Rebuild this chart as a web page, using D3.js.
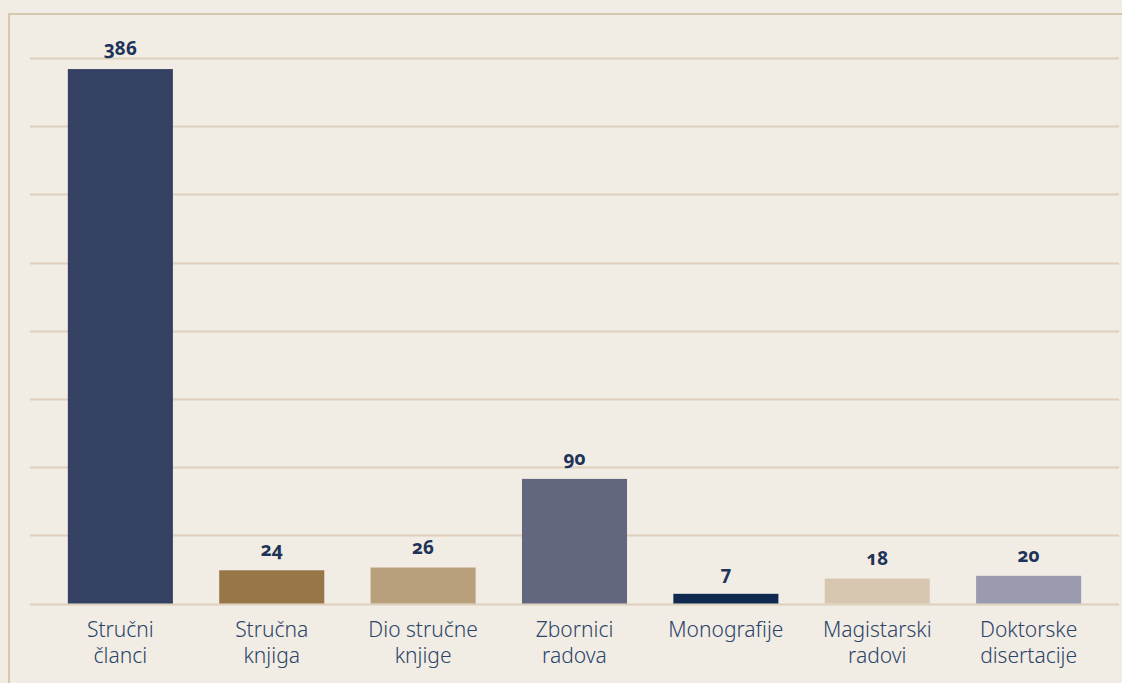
<!DOCTYPE html>
<html>
<head>
<meta charset="utf-8">
<script src="https://cdn.jsdelivr.net/npm/d3@7"></script>
<style>
  html, body { margin: 0; padding: 0; background: #f1ece4; }
  svg { display: block; }
  .value { font-family: "Noto Sans", Lato, sans-serif; font-weight: 700; font-variant-numeric: oldstyle-nums; fill: #1d3358; }
  .cat { font-family: "Noto Sans", Lato, sans-serif; font-weight: 300; fill: #2c4468; }
</style>
</head>
<body>
<svg id="chart" width="1122" height="683"></svg>
<script>
// Publications by type
const categories = [
  ["Stručni", "članci"],
  ["Stručna", "knjiga"],
  ["Dio stručne", "knjige"],
  ["Zbornici", "radova"],
  ["Monografije"],
  ["Magistarski", "radovi"],
  ["Doktorske", "disertacije"]
];
const values = [386, 24, 26, 90, 7, 18, 20];
const colors = ["#344162", "#977748", "#b8a07c", "#62667f", "#0f2a4e", "#d7c7b0", "#9a9bae"];
const yMax = 394;
const gridCount = 8;

const W = 1122, H = 683;
const svg = d3.select("#chart");

// outer frame
svg.append("rect")
  .attr("x", 9).attr("y", 14)
  .attr("width", W + 20).attr("height", H + 20)
  .attr("fill", "#f1ece4")
  .attr("stroke", "#d6c7af").attr("stroke-width", 2);

const x = d3.scaleBand()
  .domain(d3.range(categories.length))
  .range([30, 1119])
  .paddingInner(0.306)
  .paddingOuter(0.25);

const y = d3.scaleLinear().domain([0, yMax]).range([603.5, 58]);

// horizontal grid
const gridVals = d3.range(gridCount + 1).map(i => i * yMax / gridCount);
svg.append("g")
  .selectAll("line")
  .data(gridVals)
  .join("line")
  .attr("x1", 30).attr("x2", 1119)
  .attr("y1", d => Math.round(y(d)) + 0.5)
  .attr("y2", d => Math.round(y(d)) + 0.5)
  .attr("stroke", "#ddd0bc").attr("stroke-width", 2);

// bars
svg.append("g")
  .selectAll("rect")
  .data(values)
  .join("rect")
  .attr("x", (d, i) => x(i))
  .attr("width", x.bandwidth())
  .attr("y", d => y(d))
  .attr("height", d => y(0) - y(d))
  .attr("fill", (d, i) => colors[i]);

// value labels
svg.append("g")
  .selectAll("text")
  .data(values)
  .join("text")
  .attr("class", "value")
  .attr("x", (d, i) => x(i) + x.bandwidth() / 2)
  .attr("y", d => y(d) - 14)
  .attr("text-anchor", "middle")
  .attr("font-size", 19)
  .text(d => d);

// category labels
const cats = svg.append("g")
  .selectAll("text")
  .data(categories)
  .join("text")
  .attr("class", "cat")
  .attr("text-anchor", "middle")
  .attr("font-size", 21)
  .attr("x", (d, i) => x(i) + x.bandwidth() / 2)
  .attr("y", 637);
cats.selectAll("tspan")
  .data(d => d)
  .join("tspan")
  .attr("x", function () { return this.parentNode.getAttribute("x"); })
  .attr("dy", (d, j) => j === 0 ? 0 : 25.5)
  .text(d => d);
</script>
</body>
</html>
